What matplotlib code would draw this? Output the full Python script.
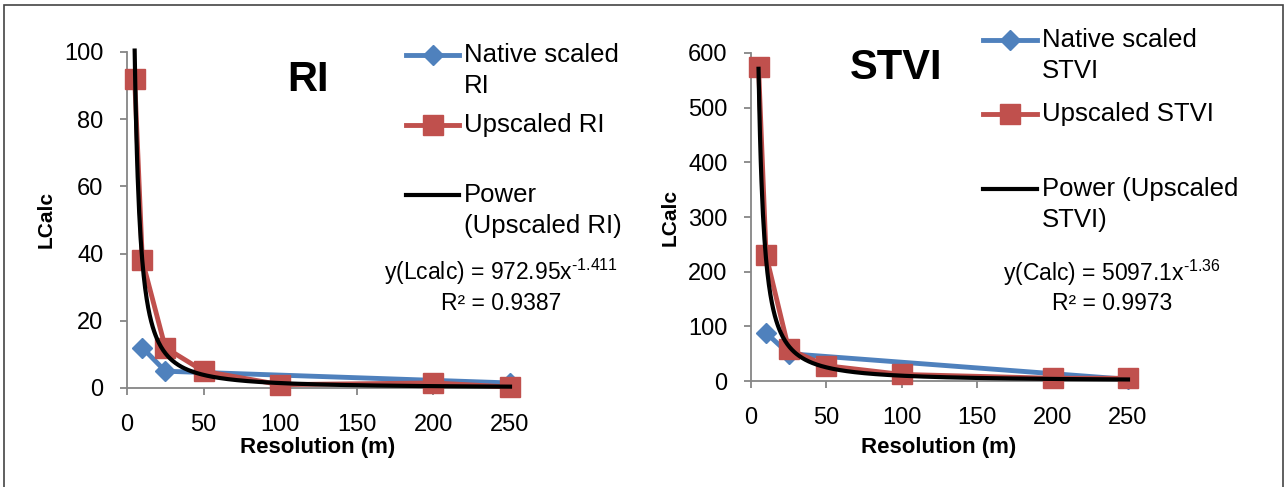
import numpy as np
import matplotlib
matplotlib.use('Agg')
import matplotlib.pyplot as plt
from matplotlib.lines import Line2D
from matplotlib.patches import Rectangle

plt.rcParams['font.family'] = ['Liberation Sans', 'DejaVu Sans']
plt.rcParams['mathtext.fontset'] = 'custom'
plt.rcParams['mathtext.rm'] = 'Liberation Sans'
plt.rcParams['mathtext.default'] = 'regular'

# data
res_up = [5, 10, 25, 50, 100, 200, 250]
res_native = [10, 25, 250]

ri_up = [92, 38, 12, 5, 1, 1.5, 0.3]
ri_native = [12, 5, 1.5]
ri_fit = (972.95, -1.411)
ri_r2 = 0.9387

stvi_up = [575, 230, 58, 28, 12, 5, 5]
stvi_native = [88, 50, 3]
stvi_fit = (5097.1, -1.36)
stvi_r2 = 0.9973

BLUE = '#4F81BD'
RED = '#C0504D'
GRAY = '#868686'

W, H = 1285, 487
fig = plt.figure(figsize=(W / 100, H / 100), dpi=100)


def fx(x):
    return x / W


def fy(y):
    return 1 - y / H


def panel(box, native, up, fit, r2, name, ymax, ystep, eq_name, leg, eq_xy, title_xy, ylab_xy, xlab_xy):
    x0, y0, x1, y1 = box
    ax = fig.add_axes([fx(x0), fy(y1), fx(x1 - x0), (y1 - y0) / H])
    ax.plot(res_native, native, color=BLUE, lw=3.5, marker='D', ms=10, zorder=2, clip_on=False)
    ax.plot(res_up, up, color=RED, lw=3.5, marker='s', ms=14, zorder=3, clip_on=False)
    xf = np.linspace(5, 250, 500)
    ax.plot(xf, fit[0] * xf ** fit[1], color='black', lw=3, zorder=4, clip_on=False)
    ax.set_xlim(0, 250)
    ax.set_ylim(0, ymax)
    ax.set_xticks(range(0, 251, 50))
    ax.set_yticks(range(0, ymax + 1, ystep))
    for s in ['top', 'right']:
        ax.spines[s].set_visible(False)
    for s in ['left', 'bottom']:
        ax.spines[s].set_color(GRAY)
        ax.spines[s].set_linewidth(1.3)
    ax.tick_params(direction='out', length=5, width=1.3, color=GRAY,
                   labelsize=17, pad=12)
    ax.tick_params(axis='x', pad=14)
    ax.patch.set_alpha(0)

    fig.text(fx(title_xy[0]), fy(title_xy[1]), name, fontsize=30,
             fontweight='bold', ha='center', va='center')
    fig.text(fx(ylab_xy[0]), fy(ylab_xy[1]), 'LCalc', fontsize=15,
             fontweight='bold', rotation=90, ha='center', va='center')
    fig.text(fx(xlab_xy[0]), fy(xlab_xy[1]), 'Resolution (m)', fontsize=16,
             fontweight='bold', ha='center', va='center')

    # legend drawn by hand so the handles sit on the first text line
    hx0, hx1, tx, rows = leg
    styles = [dict(color=BLUE, marker='D', ms=10), dict(color=RED, marker='s', ms=14),
              dict(color='black', marker=None)]
    for (label, yy), st in zip(rows, styles):
        lw = 3 if st['color'] == 'black' else 3.5
        fig.add_artist(Line2D([fx(hx0), fx((hx0 + hx1) / 2), fx(hx1)],
                              [fy(yy)] * 3, transform=fig.transFigure,
                              lw=lw, markevery=[1], **st))
        for k, line in enumerate(label.split('\n')):
            fig.text(fx(tx), fy(yy + 31 * k), line, fontsize=18.5,
                     ha='left', va='center')

    ex, ey = eq_xy
    expo = f'{fit[1]:g}'.replace('-', '\u2010')
    fig.text(fx(ex), fy(ey), eq_name + ' = ' + f'{fit[0]:g}' + 'x$^{' + expo + '}$',
             fontsize=16.5, ha='center', va='center')
    fig.text(fx(ex), fy(ey + 31), f'R² = {r2:.4f}', fontsize=16.5,
             ha='center', va='center')
    return ax


panel((127, 52, 510, 388), ri_native, ri_up, ri_fit, ri_r2, 'RI', 100, 20, 'y(Lcalc)',
      (406, 459, 464, [('Native scaled\nRI', 55), ('Upscaled RI', 125),
                        ('Power\n(Upscaled RI)', 195)]),
      (501, 272), (308, 80), (46, 220), (318, 448))

panel((751, 53, 1128, 381), stvi_native, stvi_up, stvi_fit, stvi_r2, 'STVI', 600, 100, 'y(Calc)',
      (983, 1037, 1042, [('Native scaled\nSTVI', 40), ('Upscaled STVI', 114),
                         ('Power (Upscaled\nSTVI)', 189)]),
      (1112, 273), (896, 68), (670, 217), (939, 448))

# outer frame of the picture
fig.add_artist(Rectangle((fx(4), -0.05), fx(1279), fy(5) + 0.05, transform=fig.transFigure,
                         fill=False, edgecolor='#444444', lw=1.2))

fig.savefig('out.png', dpi=100)
